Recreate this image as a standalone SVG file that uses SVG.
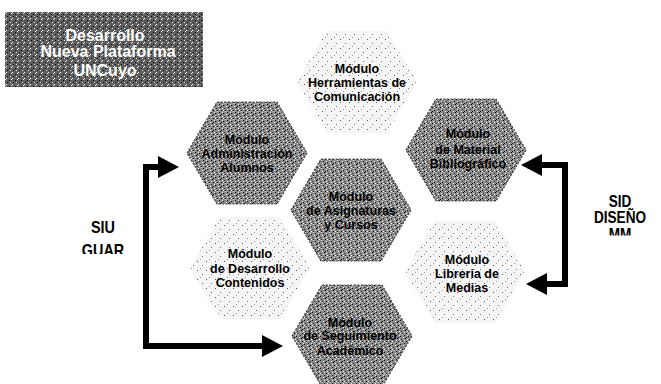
<svg xmlns="http://www.w3.org/2000/svg" xmlns:xlink="http://www.w3.org/1999/xlink" width="661" height="384" viewBox="0 0 661 384">
<style>
.t{font-family:"Liberation Sans",Arial,Helvetica,sans-serif;font-weight:bold;font-size:12.5px;fill:#000;text-anchor:middle}
.lab{font-family:"Liberation Sans",Arial,Helvetica,sans-serif;font-weight:bold;font-size:16px;fill:#000;text-anchor:middle}
.ttl{font-family:"Liberation Sans",Arial,Helvetica,sans-serif;font-weight:bold;font-size:16px;fill:#fff;text-anchor:middle}
.dark{fill:url(#pd);stroke:#4a4a4a;stroke-width:1.2;stroke-dasharray:2 1.5}
.light{fill:url(#pl)}
.con{fill:none;stroke:#000;stroke-width:6;marker-start:url(#ah);marker-end:url(#ah)}
</style>
<defs>
<pattern id="pd" width="8" height="8" patternUnits="userSpaceOnUse">
<rect width="8" height="8" fill="#8a8a8a"/>
<rect x="0" y="0" width="1" height="1" fill="#111"/>
<rect x="3" y="1" width="1" height="1" fill="#fff"/>
<rect x="6" y="1" width="1" height="1" fill="#222"/>
<rect x="5" y="2" width="1" height="1" fill="#000"/>
<rect x="1" y="3" width="1" height="1" fill="#333"/>
<rect x="7" y="3" width="1" height="1" fill="#fff"/>
<rect x="4" y="4" width="1" height="1" fill="#eee"/>
<rect x="2" y="5" width="1" height="1" fill="#111"/>
<rect x="6" y="5" width="1" height="1" fill="#111"/>
<rect x="2" y="6" width="1" height="1" fill="#ddd"/>
<rect x="0" y="5" width="1" height="1" fill="#fff"/>
<rect x="4" y="7" width="1" height="1" fill="#222"/>
<rect x="7" y="7" width="1" height="1" fill="#eee"/>
</pattern>
<pattern id="pl" width="9" height="9" patternUnits="userSpaceOnUse">
<rect width="9" height="9" fill="#f5f5f5"/>
<rect x="1" y="2" width="1" height="1" fill="#555"/>
<rect x="6" y="6" width="1" height="1" fill="#777"/>
<rect x="4" y="0" width="1" height="1" fill="#999"/>
</pattern>
<pattern id="pt" width="6" height="6" patternUnits="userSpaceOnUse">
<rect width="6" height="6" fill="#5e5e5e"/>
<rect x="0" y="0" width="1" height="1" fill="#fff"/>
<rect x="3" y="2" width="1" height="1" fill="#000"/>
<rect x="4" y="4" width="1" height="1" fill="#ddd"/>
<rect x="1" y="4" width="1" height="1" fill="#111"/>
<rect x="5" y="1" width="1" height="1" fill="#eee"/>
</pattern>
<polygon id="hex" points="-60,0 -30,-51 30,-51 60,0 30,51 -30,51"/>
<marker id="ah" markerUnits="userSpaceOnUse" markerWidth="22" markerHeight="22" refX="0" refY="11" orient="auto-start-reverse">
<path d="M0,0 L21,11 L0,22 z" fill="#000"/>
</marker>
<clipPath id="clipL"><rect x="-50" y="200" width="100" height="54"/></clipPath>
<clipPath id="clipR"><rect x="-50" y="180" width="100" height="55.5"/></clipPath>
</defs>
<rect width="661" height="384" fill="#fff"/>

<g id="title">
<rect x="5" y="12" width="198" height="75" fill="url(#pt)"/>
<text class="ttl" x="105" y="41">Desarrollo</text>
<text class="ttl" x="108" y="57">Nueva Plataforma</text>
<text class="ttl" x="105" y="76">UNCuyo</text>
</g>

<g id="herramientas">
<use xlink:href="#hex" x="357" y="82" class="light"/>
<g transform="translate(357,82)"><text class="t" y="-9.5">Módulo</text><text class="t" y="4.5">Herramientas de</text><text class="t" y="18.5">Comunicación</text></g>
</g>
<g id="administracion">
<use xlink:href="#hex" x="247" y="153" class="dark"/>
<g transform="translate(247,153)"><text class="t" y="-9.5">Módulo</text><text class="t" y="4.5">Administración</text><text class="t" y="18.5">Alumnos</text></g>
</g>
<g id="material">
<use xlink:href="#hex" x="466" y="150" class="dark"/>
<g transform="translate(468,150)"><text class="t" y="-12">Módulo</text><text class="t" y="3.5">de Material</text><text class="t" y="17.5">Bibliográfico</text></g>
</g>
<g id="asignaturas">
<use xlink:href="#hex" x="351" y="210" class="dark"/>
<g transform="translate(351,210)"><text class="t" y="-9.5">Módulo</text><text class="t" y="4.5">de Asignaturas</text><text class="t" y="18.5">y Cursos</text></g>
</g>
<g id="desarrollo">
<use xlink:href="#hex" x="250" y="268" class="light"/>
<g transform="translate(250,268)"><text class="t" y="-10">Módulo</text><text class="t" y="4.5">de Desarrollo</text><text class="t" y="18.5">Contenidos</text></g>
</g>
<g id="libreria">
<use xlink:href="#hex" x="465" y="272" class="light"/>
<g transform="translate(467,273)"><text class="t" y="-9">Módulo</text><text class="t" y="4.5">Librería de</text><text class="t" y="18.5">Medias</text></g>
</g>
<g id="seguimiento">
<use xlink:href="#hex" x="352" y="336" class="dark"/>
<g transform="translate(350,336)"><text class="t" y="-9.5">Módulo</text><text class="t" y="4">de Seguimiento</text><text class="t" y="18.5">Académico</text></g>
</g>

<g id="connectors">
<path class="con" d="M158,167 H146 V346 H262"/>
<path class="con" d="M542,165 H565 V284 H547"/>
</g>

<g id="labels">
<g transform="translate(103,0) scale(0.9,1)">
<text class="lab" x="0" y="233">SIU</text>
<text class="lab" x="0" y="256" clip-path="url(#clipL)">GUAR</text>
</g>
<g transform="translate(620,0) scale(0.85,1)">
<text class="lab" x="0" y="207">SID</text>
<text class="lab" x="0" y="223">DISEÑO</text>
<text class="lab" x="0" y="240" clip-path="url(#clipR)">MM</text>
</g>
</g>
</svg>
